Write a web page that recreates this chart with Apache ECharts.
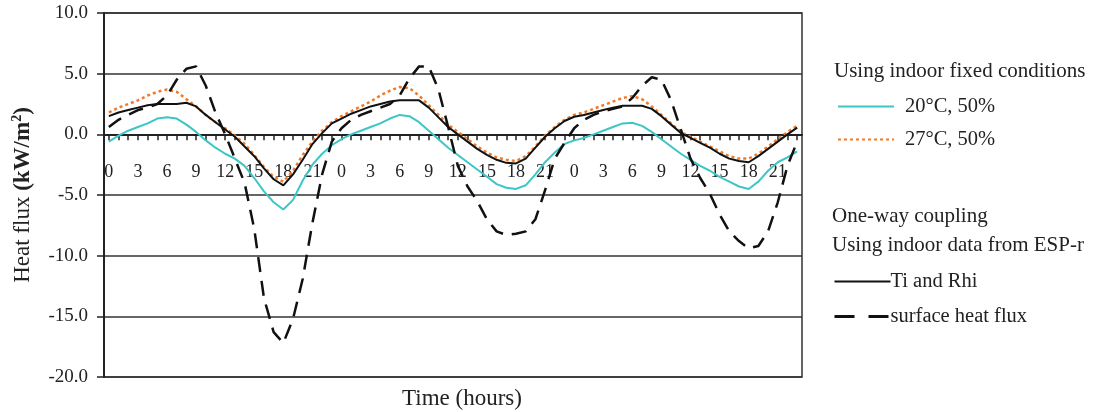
<!DOCTYPE html>
<html>
<head>
<meta charset="utf-8">
<script src="https://cdn.jsdelivr.net/npm/echarts@6/dist/echarts.min.js"></script>
<style>
  html, body { margin: 0; padding: 0; background: #fff; }
  #chart { width: 1094px; height: 412px; }
</style>
</head>
<body>
<div id="chart"></div>
<script>
// hour of day, three days in a row
var days = 3
var hours = []
for (var d = 0; d < days; d++) {
    for (var h = 0; h < 24; h++) hours.push(String(h))
}

// heat flux (kW/m2)
var fixed20 = [
    -0.6, -0.1, 0.3, 0.6, 0.9, 1.3, 1.4, 1.3, 0.8, 0.2, -0.5, -1.1,
    -1.6, -2.0, -2.6, -3.6, -4.7, -5.6, -6.2, -5.4, -3.8, -2.5, -1.6, -0.9,
    -0.4, 0.0, 0.3, 0.6, 0.9, 1.3, 1.6, 1.5, 1.0, 0.3, -0.4, -1.1,
    -1.7, -2.3, -2.9, -3.5, -4.1, -4.4, -4.5, -4.2, -3.3, -2.3, -1.5, -0.8,
    -0.5, -0.3, 0.0, 0.3, 0.6, 0.9, 0.95, 0.7, 0.2, -0.4, -1.0, -1.6,
    -2.1, -2.6, -3.0, -3.5, -3.9, -4.3, -4.5, -3.9, -3.0, -2.3, -1.9, -1.4
]
var fixed27 = [
    1.8, 2.2, 2.5, 2.8, 3.2, 3.5, 3.7, 3.5, 2.9, 2.3, 1.6, 1.0,
    0.5, -0.1, -0.8, -1.7, -2.7, -3.5, -3.9, -3.0, -1.7, -0.6, 0.3, 1.0,
    1.5, 1.9, 2.3, 2.7, 3.2, 3.6, 3.9, 3.8, 3.2, 2.4, 1.6, 0.8,
    0.2, -0.4, -1.0, -1.5, -1.9, -2.1, -2.2, -1.8, -1.0, -0.1, 0.6, 1.2,
    1.6, 1.8, 2.1, 2.4, 2.7, 3.0, 3.15, 2.9, 2.3, 1.6, 0.9, 0.2,
    -0.2, -0.6, -1.0, -1.4, -1.8, -2.0, -2.0, -1.6, -1.0, -0.4, 0.2, 0.7
]
var tiRhi = [
    1.5, 1.8, 2.0, 2.2, 2.4, 2.5, 2.5, 2.5, 2.6, 2.3, 1.6, 1.0,
    0.4, -0.2, -1.0, -1.8, -2.8, -3.7, -4.2, -3.3, -2.1, -0.8, 0.1, 0.9,
    1.3, 1.7, 2.0, 2.3, 2.5, 2.7, 2.8, 2.8, 2.8, 2.2, 1.4, 0.6,
    0.0, -0.6, -1.2, -1.7, -2.1, -2.35, -2.4, -2.0, -1.1, -0.2, 0.5, 1.1,
    1.45, 1.6, 1.8, 2.0, 2.2, 2.35, 2.35, 2.35, 2.1, 1.5, 0.8, 0.1,
    -0.3, -0.7, -1.1, -1.6, -2.0, -2.2, -2.3, -1.8, -1.2, -0.6, 0.0, 0.55
]
var surfaceFlux = [
    0.6, 1.2, 1.6, 2.0, 2.2, 2.5, 3.2, 4.5, 5.4, 5.6, 4.0, 1.8,
    0.0, -2.0, -4.0, -7.8, -13.5, -16.3, -17.2, -15.2, -11.9, -7.3, -3.3, -0.6,
    0.5, 1.2, 1.6, 1.9, 2.2, 2.5, 3.2, 4.6, 5.6, 5.6, 3.7, 0.6,
    -2.6, -4.3, -5.5, -7.0, -8.0, -8.3, -8.2, -8.0, -7.0, -4.6, -2.0, -0.7,
    0.5, 1.2, 1.6, 1.9, 2.1, 2.3, 3.0, 4.0, 4.7, 4.5, 2.8, 0.4,
    -2.0, -3.6, -4.9, -6.6, -8.0, -8.8, -9.4, -9.2, -8.0, -5.6, -2.6, -0.6
]

var seriesNames = ['20°C, 50%', '27°C, 50%', 'Ti and Rhi', 'surface heat flux']

var serif = 'Liberation Serif'
var myChart = echarts.init(document.getElementById('chart'))

var headStyle = { fontFamily: serif, fontSize: 21, fontWeight: 'normal', color: '#222' }

var option = {
    animation: false,
    backgroundColor: '#fff',
    textStyle: { fontFamily: serif, color: '#222' },
    title: [
        { text: 'Using indoor fixed conditions', left: 829, top: 56, textStyle: headStyle },
        { text: 'One-way coupling', left: 827, top: 201, textStyle: headStyle },
        { text: 'Using indoor data from ESP-r', left: 827, top: 230, textStyle: headStyle }
    ],
    legend: [{
        data: [seriesNames[0], seriesNames[1]],
        orient: 'vertical',
        left: 837,
        top: 96,
        padding: 0,
        itemWidth: 56,
        itemHeight: 14,
        itemGap: 12,
        itemStyle: { opacity: 0 },
        textStyle: { fontFamily: serif, fontSize: 20.5, color: '#222', padding: [0, 0, 0, 6] }
    }, {
        data: [seriesNames[2], {
            name: seriesNames[3],
            lineStyle: { type: [20, 14], width: 3 }
        }],
        orient: 'vertical',
        left: 833,
        top: 271,
        padding: 0,
        itemWidth: 56,
        itemHeight: 14,
        itemGap: 14,
        itemStyle: { opacity: 0 },
        textStyle: { fontFamily: serif, fontSize: 20.5, color: '#222', padding: [0, 0, 0, -5] }
    }],
    grid: {
        show: true,
        left: 104,
        right: 292,
        top: 13,
        bottom: 35,
        outerBoundsMode: 'none',
        containLabel: false,
        borderColor: '#333',
        borderWidth: 1.5
    },
    xAxis: {
        type: 'category',
        data: hours,
        boundaryGap: true,
        name: 'Time (hours)',
        nameLocation: 'middle',
        nameGap: 10,
        nameTextStyle: { fontFamily: serif, fontSize: 23, color: '#222', padding: [0, 0, 0, 18] },
        axisLine: { onZero: true, lineStyle: { color: '#222', width: 2 } },
        axisTick: { show: true, interval: 0, alignWithLabel: true, length: 6,
                    lineStyle: { color: '#222', width: 1.5 } },
        axisLabel: { interval: 2, margin: -214, fontFamily: serif, fontSize: 18, color: '#222' },
        splitLine: { show: false }
    },
    yAxis: {
        type: 'value',
        min: -20,
        max: 10,
        interval: 5,
        name: '{a|Heat flux }{b|(kW/m}{c|2}{b|)}',
        nameLocation: 'middle',
        nameGap: 68,
        nameTextStyle: {
            rich: {
                a: { fontFamily: serif, fontSize: 23, color: '#222' },
                b: { fontFamily: serif, fontSize: 23, fontWeight: 'bold', color: '#222' },
                c: { fontFamily: serif, fontSize: 14, fontWeight: 'bold', color: '#222', padding: [0, 0, 12, 0] }
            }
        },
        axisLine: { show: true, lineStyle: { color: '#222', width: 2 } },
        axisTick: { show: true, length: 7, lineStyle: { color: '#222', width: 1.5 } },
        axisLabel: {
            margin: 16,
            fontFamily: serif,
            fontSize: 19,
            color: '#222',
            formatter: function (v) { return v.toFixed(1) }
        },
        splitLine: { show: true, lineStyle: { color: '#333', width: 1.5 } }
    },
    series: [{
        name: seriesNames[0],
        type: 'line',
        data: fixed20,
        symbol: 'none',
        lineStyle: { color: '#3cc6c6', width: 2 },
        itemStyle: { color: '#3cc6c6' },
        z: 3
    }, {
        name: seriesNames[1],
        type: 'line',
        data: fixed27,
        symbol: 'none',
        lineStyle: { color: '#f07a28', width: 2.5, type: [3, 3] },
        itemStyle: { color: '#f07a28' },
        z: 4
    }, {
        name: seriesNames[2],
        type: 'line',
        data: tiRhi,
        symbol: 'none',
        lineStyle: { color: '#111', width: 2 },
        itemStyle: { color: '#111' },
        z: 5
    }, {
        name: seriesNames[3],
        type: 'line',
        data: surfaceFlux,
        symbol: 'none',
        lineStyle: { color: '#111', width: 2.5, type: [15, 9] },
        itemStyle: { color: '#111' },
        z: 6
    }]
}

myChart.setOption(option)
</script>
</body>
</html>
